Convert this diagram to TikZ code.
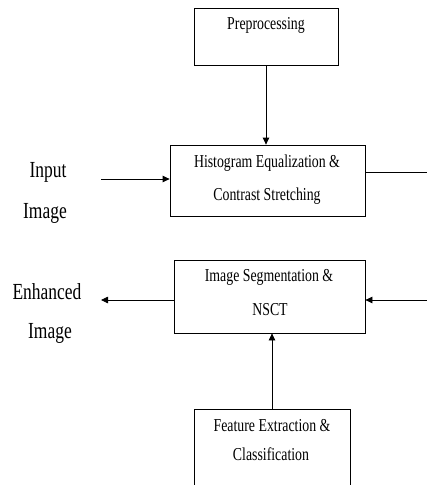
\documentclass[tikz,border=0pt]{standalone}
\usepackage{fontspec}
\setmainfont{Liberation Serif}[FakeStretch=0.76]
\usetikzlibrary{arrows.meta}
\tikzset{
  box/.style={draw, line width=0.8pt, inner sep=0pt},
  boxtxt/.style={font=\fontsize{18.2}{21}\selectfont, inner sep=0pt},
  io/.style={font=\fontsize{23}{27}\selectfont, inner sep=0pt},
  flow/.style={line width=0.8pt, -{Triangle[length=7pt,width=6.5pt]}}
}
\begin{document}
\begin{tikzpicture}[x=1pt,y=-1pt]
  \useasboundingbox (0,0) rectangle (427,485);
  %blocchi
  \node[box, minimum width=144pt, minimum height=57pt] (pre) at (266,36.5) {};
  \node[boxtxt] (pretxt) at (266,25) {Preprocessing};
  \node[box, minimum width=195pt, minimum height=71pt] (hist) at (267.5,180.5) {};
  \node[boxtxt] (histA) at (267,163) {Histogram Equalization \&};
  \node[boxtxt] (histB) at (267,196) {Contrast Stretching};
  \node[box, minimum width=191pt, minimum height=73pt] (seg) at (269.5,296.5) {};
  \node[boxtxt] (segA) at (269,277) {Image Segmentation \&};
  \node[boxtxt] (segB) at (270,310) {NSCT};
  \node[box, minimum width=156pt, minimum height=120pt] (feat) at (272,469) {};
  \node[boxtxt] (featA) at (272,426) {Feature Extraction \&};
  \node[boxtxt] (featB) at (271,454) {Classification};
  %etichette
  \node[io] (inA) at (48,172) {Input};
  \node[io] (inB) at (45,213) {Image};
  \node[io] (outA) at (47,292) {Enhanced};
  \node[io] (outB) at (50,333) {Image};
  %frecce
  \coordinate (inpt) at (101,179);
  \coordinate (outpt) at (101,300);
  \coordinate (rtop) at (428,172);
  \coordinate (rbot) at (428,300);
  \draw[flow] (pre.south) -- (pre.south |- hist.north);
  \draw[flow] (inpt) -- (inpt -| hist.west);
  \draw[line width=0.8pt] (rtop -| hist.east) -- (rtop);
  \draw[flow] (rbot) -- (rbot -| seg.east);
  \draw[flow] (outpt -| seg.west) -- (outpt);
  \draw[flow] (feat.north) -- (feat.north |- seg.south);
\end{tikzpicture}
\end{document}
